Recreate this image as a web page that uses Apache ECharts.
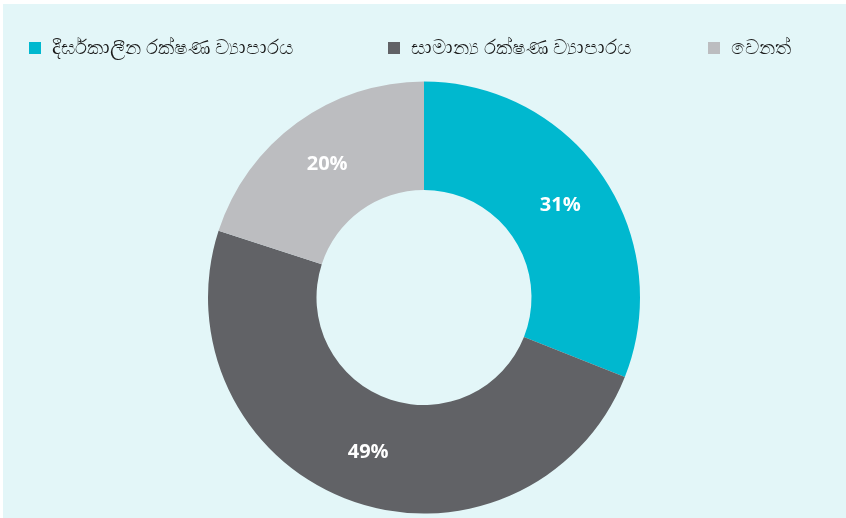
<!DOCTYPE html>
<html><head><meta charset="utf-8">
<script src="https://cdn.jsdelivr.net/npm/echarts@6/dist/echarts.min.js"></script>
<style>
html,body{margin:0;padding:0;background:#fff;}
#bg{position:absolute;left:3px;top:4px;width:843px;height:514px;background:#e3f6f8;}
#c{position:absolute;left:0;top:0;width:846px;height:518px;}
</style></head>
<body><div id="bg"></div><div id="c"></div>
<script>
const categories = ['දීර්ඝකාලීන රක්ෂණ ව්‍යාපාරය', 'සාමාන්‍ය රක්ෂණ ව්‍යාපාරය', 'වෙනත්'];
const values = [31, 49, 20];
const colors = ['#00b8cf', '#616266', '#bcbdc0'];
const legendLefts = [24, 383, 703];

const chart = echarts.init(document.getElementById('c'), null, {renderer:'canvas'});
const legendBase = {
  top: 33, itemWidth: 12, itemHeight: 12, itemGap: 10, icon: 'rect',
  textStyle: {fontSize: 20, color: '#1a1a1a', fontFamily: '"Noto Sans", sans-serif', padding: [0, 0, 0, 6]}
};
chart.setOption({
  backgroundColor: 'transparent',
  color: colors,
  legend: categories.map((n, i) => Object.assign({}, legendBase, {left: legendLefts[i], data: [n]})),
  series: [{
    type: 'pie',
    center: [424, 297.5],
    radius: [107.5, 216],
    startAngle: 90,
    clockwise: true,
    avoidLabelOverlap: false,
    label: {
      show: true, position: 'inside',
      formatter: p => p.value + '%',
      color: '#fff', fontSize: 20, fontWeight: 'bold',
      fontFamily: '"Open Sans", sans-serif'
    },
    labelLine: {show: false},
    itemStyle: {borderWidth: 0},
    emphasis: {disabled: true},
    data: categories.map((n, i) => ({name: n, value: values[i]}))
  }]
});
</script></body></html>
